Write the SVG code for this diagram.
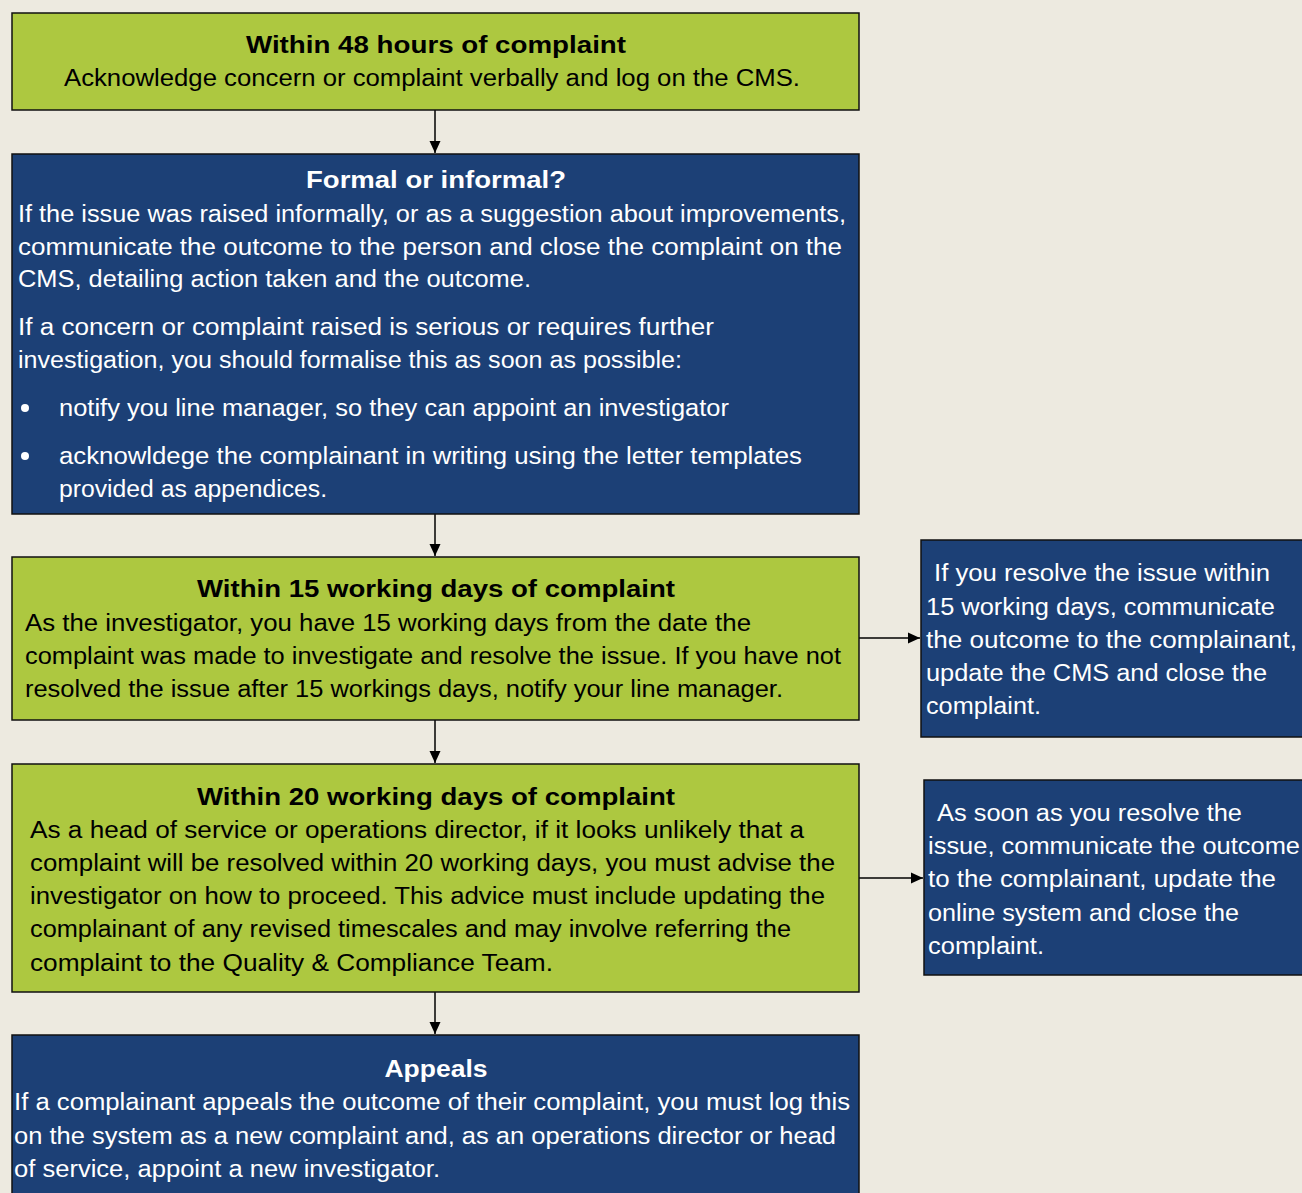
<svg xmlns="http://www.w3.org/2000/svg" width="1302" height="1193" viewBox="0 0 1302 1193">
<defs>
<style>
.g{fill:#adc840;stroke:#111;stroke-width:1.5}
.b{fill:#1c4076;stroke:#111;stroke-width:1.5}
text{font-family:"Liberation Sans",Arial,sans-serif;font-size:23px}
.dk{fill:#000}
.wt{fill:#fff}
.h{font-weight:bold;text-anchor:middle}
.c{stroke:#000;stroke-width:1.5;fill:none}
</style>
<marker id="ah" markerWidth="12" markerHeight="12" refX="12" refY="6" orient="auto" markerUnits="userSpaceOnUse">
<path d="M0,0.5 L12,6 L0,11.5 Z" fill="#000"/>
</marker>
</defs>
<rect x="0" y="0" width="1302" height="1193" fill="#edeae0"/>

<g id="connectors">
<line class="c" x1="435" y1="110" x2="435" y2="153" marker-end="url(#ah)"/>
<line class="c" x1="435" y1="514" x2="435" y2="556" marker-end="url(#ah)"/>
<line class="c" x1="435" y1="720" x2="435" y2="763" marker-end="url(#ah)"/>
<line class="c" x1="435" y1="992" x2="435" y2="1034" marker-end="url(#ah)"/>
<line class="c" x1="859" y1="638" x2="920" y2="638" marker-end="url(#ah)"/>
<line class="c" x1="859" y1="878" x2="923" y2="878" marker-end="url(#ah)"/>
</g>

<g id="node-48h">
<rect class="g" x="12" y="13" width="847" height="97"/>
<text class="dk h" x="436" y="53" textLength="380" lengthAdjust="spacingAndGlyphs">Within 48 hours of complaint</text>
<text class="dk" x="64" y="86" textLength="736" lengthAdjust="spacingAndGlyphs">Acknowledge concern or complaint verbally and log on the CMS.</text>
</g>

<g id="node-formal">
<rect class="b" x="12" y="154" width="847" height="360"/>
<text class="wt h" x="436" y="188" textLength="260" lengthAdjust="spacingAndGlyphs">Formal or informal?</text>
<text class="wt" x="18" y="222" textLength="828" lengthAdjust="spacingAndGlyphs">If the issue was raised informally, or as a suggestion about improvements,</text>
<text class="wt" x="18" y="255" textLength="824" lengthAdjust="spacingAndGlyphs">communicate the outcome to the person and close the complaint on the</text>
<text class="wt" x="18" y="287" textLength="513" lengthAdjust="spacingAndGlyphs">CMS, detailing action taken and the outcome.</text>
<text class="wt" x="18" y="335" textLength="696" lengthAdjust="spacingAndGlyphs">If a concern or complaint raised is serious or requires further</text>
<text class="wt" x="18" y="368" textLength="664" lengthAdjust="spacingAndGlyphs">investigation, you should formalise this as soon as possible:</text>
<circle cx="25" cy="408" r="4" fill="#fff"/>
<text class="wt" x="59" y="416" textLength="670" lengthAdjust="spacingAndGlyphs">notify you line manager, so they can appoint an investigator</text>
<circle cx="25" cy="456" r="4" fill="#fff"/>
<text class="wt" x="59" y="464" textLength="743" lengthAdjust="spacingAndGlyphs">acknowldege the complainant in writing using the letter templates</text>
<text class="wt" x="59" y="497" textLength="268" lengthAdjust="spacingAndGlyphs">provided as appendices.</text>
</g>

<g id="node-15days">
<rect class="g" x="12" y="557" width="847" height="163"/>
<text class="dk h" x="436" y="597" textLength="478" lengthAdjust="spacingAndGlyphs">Within 15 working days of complaint</text>
<text class="dk" x="25" y="631" textLength="726" lengthAdjust="spacingAndGlyphs">As the investigator, you have 15 working days from the date the</text>
<text class="dk" x="25" y="664" textLength="816" lengthAdjust="spacingAndGlyphs">complaint was made to investigate and resolve the issue. If you have not</text>
<text class="dk" x="25" y="697" textLength="758" lengthAdjust="spacingAndGlyphs">resolved the issue after 15 workings days, notify your line manager.</text>
</g>

<g id="node-resolve15">
<rect class="b" x="921" y="540" width="400" height="197"/>
<text class="wt" x="934" y="581" textLength="336" lengthAdjust="spacingAndGlyphs">If you resolve the issue within</text>
<text class="wt" x="926" y="615" textLength="349" lengthAdjust="spacingAndGlyphs">15 working days, communicate</text>
<text class="wt" x="926" y="648" textLength="371" lengthAdjust="spacingAndGlyphs">the outcome to the complainant,</text>
<text class="wt" x="926" y="681" textLength="341" lengthAdjust="spacingAndGlyphs">update the CMS and close the</text>
<text class="wt" x="926" y="714" textLength="115" lengthAdjust="spacingAndGlyphs">complaint.</text>
</g>

<g id="node-20days">
<rect class="g" x="12" y="764" width="847" height="228"/>
<text class="dk h" x="436" y="805" textLength="478" lengthAdjust="spacingAndGlyphs">Within 20 working days of complaint</text>
<text class="dk" x="30" y="838" textLength="774" lengthAdjust="spacingAndGlyphs">As a head of service or operations director, if it looks unlikely that a</text>
<text class="dk" x="30" y="871" textLength="805" lengthAdjust="spacingAndGlyphs">complaint will be resolved within 20 working days, you must advise the</text>
<text class="dk" x="30" y="904" textLength="795" lengthAdjust="spacingAndGlyphs">investigator on how to proceed. This advice must include updating the</text>
<text class="dk" x="30" y="937" textLength="761" lengthAdjust="spacingAndGlyphs">complainant of any revised timescales and may involve referring the</text>
<text class="dk" x="30" y="971" textLength="523" lengthAdjust="spacingAndGlyphs">complaint to the Quality &amp; Compliance Team.</text>
</g>

<g id="node-resolve-asap">
<rect class="b" x="924" y="780" width="400" height="195"/>
<text class="wt" x="937" y="821" textLength="305" lengthAdjust="spacingAndGlyphs">As soon as you resolve the</text>
<text class="wt" x="928" y="854" textLength="372" lengthAdjust="spacingAndGlyphs">issue, communicate the outcome</text>
<text class="wt" x="928" y="887" textLength="348" lengthAdjust="spacingAndGlyphs">to the complainant, update the</text>
<text class="wt" x="928" y="921" textLength="311" lengthAdjust="spacingAndGlyphs">online system and close the</text>
<text class="wt" x="928" y="954" textLength="116" lengthAdjust="spacingAndGlyphs">complaint.</text>
</g>

<g id="node-appeals">
<rect class="b" x="12" y="1035" width="847" height="170"/>
<text class="wt h" x="436" y="1077" textLength="103" lengthAdjust="spacingAndGlyphs">Appeals</text>
<text class="wt" x="14" y="1110" textLength="836" lengthAdjust="spacingAndGlyphs">If a complainant appeals the outcome of their complaint, you must log this</text>
<text class="wt" x="14" y="1144" textLength="822" lengthAdjust="spacingAndGlyphs">on the system as a new complaint and, as an operations director or head</text>
<text class="wt" x="14" y="1177" textLength="426" lengthAdjust="spacingAndGlyphs">of service, appoint a new investigator.</text>
</g>
</svg>
